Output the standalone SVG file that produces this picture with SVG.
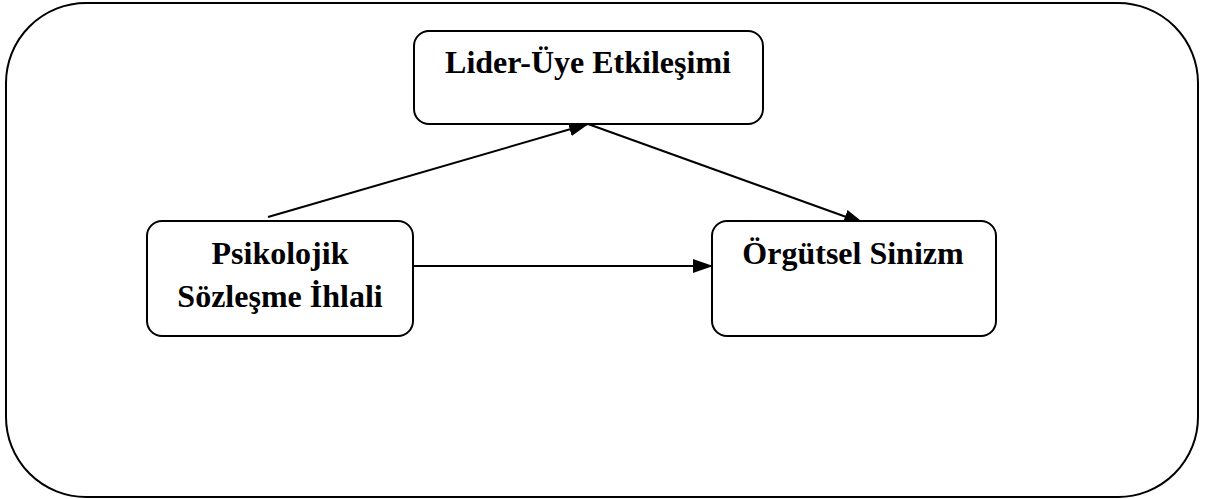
<svg xmlns="http://www.w3.org/2000/svg" width="1206" height="499" viewBox="0 0 1206 499">
<style>
.box{fill:#fff;stroke:#000;stroke-width:2}
.t{font-family:"Liberation Serif","Times New Roman",serif;font-weight:bold;font-size:32px;text-anchor:middle;fill:#000}
.c{stroke:#000;stroke-width:2;fill:none}
</style>
<defs>
<marker id="ah" markerWidth="20" markerHeight="14" refX="19" refY="7" orient="auto" markerUnits="userSpaceOnUse" viewBox="0 0 20 14">
<path d="M0,0 L20,7 L0,14 z" fill="#000"/>
</marker>
</defs>
<rect x="6" y="3" width="1192" height="494" rx="80" ry="80" class="box"/>
<g id="connectors">
<line x1="268" y1="217" x2="588" y2="124" class="c" marker-end="url(#ah)"/>
<line x1="588" y1="124" x2="863" y2="223" class="c" marker-end="url(#ah)"/>
<line x1="413" y1="266" x2="712" y2="266" class="c" marker-end="url(#ah)"/>
</g>
<g id="lider">
<rect x="414" y="31" width="349" height="93" rx="15" class="box"/>
<text x="588" y="73" class="t">Lider-Üye Etkileşimi</text>
</g>
<g id="psikolojik">
<rect x="147" y="221" width="266" height="115" rx="15" class="box"/>
<text x="280" y="264" class="t">Psikolojik</text>
<text x="280" y="307" class="t">Sözleşme İhlali</text>
</g>
<g id="orgutsel">
<rect x="712" y="221" width="284" height="115" rx="15" class="box"/>
<text x="853" y="264" class="t">Örgütsel Sinizm</text>
</g>
</svg>
